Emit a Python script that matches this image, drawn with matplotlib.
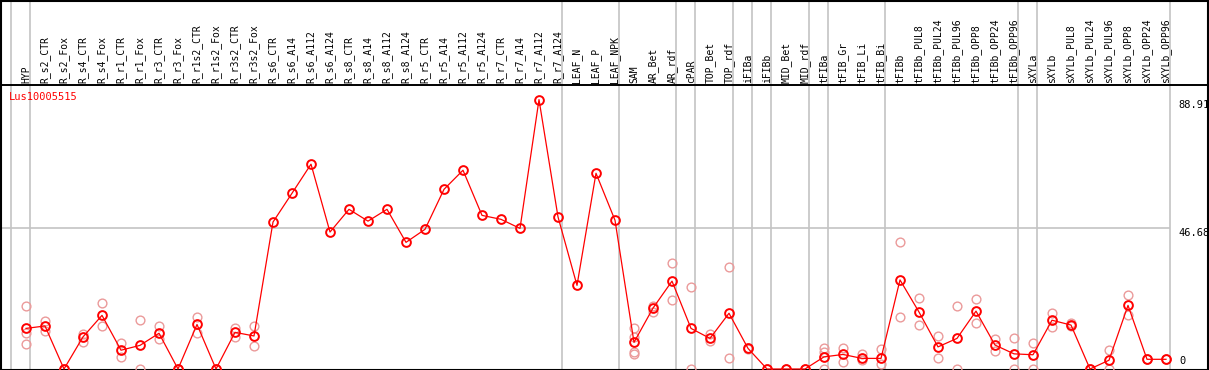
import numpy as np
import matplotlib
matplotlib.use("Agg")
import matplotlib.pyplot as plt

###################################################
# Data
###################################################

GENE = "Lus10005515"

labels = [
    "HYP", "R_s2_CTR", "R_s2_Fox", "R_s4_CTR", "R_s4_Fox",
    "R_r1_CTR", "R_r1_Fox", "R_r3_CTR", "R_r3_Fox",
    "R_r1s2_CTR", "R_r1s2_Fox", "R_r3s2_CTR", "R_r3s2_Fox",
    "R_s6_CTR", "R_s6_A14", "R_s6_A112", "R_s6_A124",
    "R_s8_CTR", "R_s8_A14", "R_s8_A112", "R_s8_A124",
    "R_r5_CTR", "R_r5_A14", "R_r5_A112", "R_r5_A124",
    "R_r7_CTR", "R_r7_A14", "R_r7_A112", "R_r7_A124",
    "LEAF_N", "LEAF_P", "LEAF_NPK",
    "SAM", "AR_Bet", "AR_rdf", "cPAR", "TOP_Bet", "TOP_rdf",
    "iFIBa", "iFIBb", "MID_Bet", "MID_rdf",
    "tFIBa", "tFIB_Gr", "tFIB_Li", "tFIB_Bi",
    "tFIBb", "tFIBb_PUL8", "tFIBb_PUL24", "tFIBb_PUL96",
    "tFIBb_OPP8", "tFIBb_OPP24", "tFIBb_OPP96",
    "sXYLa", "sXYLb", "sXYLb_PUL8", "sXYLb_PUL24", "sXYLb_PUL96",
    "sXYLb_OPP8", "sXYLb_OPP24", "sXYLb_OPP96",
]

mean_expr = [
    13.4, 14.2, 0.0, 10.6, 17.7,
    6.2, 7.8, 11.8, 0.0,
    14.7, 0.0, 12.1, 10.9,
    48.5, 58.0, 67.6, 45.2,
    52.7, 48.8, 52.7, 41.8,
    46.1, 59.3, 65.6, 50.7,
    49.4, 46.4, 88.91, 50.2,
    27.6, 64.6, 49.1,
    8.8, 20.1, 29.0, 13.4, 10.1, 18.4,
    6.8, 0.0, 0.0, 0.0,
    4.0, 4.8, 3.5, 3.5,
    29.4, 18.8, 7.3, 10.1,
    19.1, 7.9, 5.0,
    4.7, 16.1, 14.5, 0.0, 2.9,
    21.0, 3.2, 3.2,
]

nan = np.nan

rep_1 = [
    20.8, 15.9, 0.0, 11.7, 21.7,
    8.6, 16.1, 14.2, 0.0,
    17.2, 0.0, 13.4, 14.2,
    nan, nan, nan, nan,
    nan, nan, nan, nan,
    nan, nan, nan, nan,
    nan, nan, nan, nan,
    nan, nan, nan,
    13.4, 20.8, 34.9, 27.1, 11.5, 33.6,
    7.0, 0.0, 0.0, 0.0,
    7.0, 7.0, 4.8, 6.5,
    41.8, 23.3, 10.9, 20.8,
    23.0, 9.8, 10.1,
    8.6, 18.5, 15.3, 0.0, 6.3,
    24.3, 3.2, 3.2,
]

rep_2 = [
    12.0, 12.5, 0.0, 8.9, 14.2,
    4.1, 0.0, 9.8, 0.0,
    12.0, 0.0, 10.7, 7.5,
    nan, nan, nan, nan,
    nan, nan, nan, nan,
    nan, nan, nan, nan,
    nan, nan, nan, nan,
    nan, nan, nan,
    10.5, 18.9, 22.7, 0.0, 9.2, 3.5,
    6.5, 0.0, 0.0, 0.0,
    5.7, 2.2, 3.0, 1.6,
    17.2, 14.4, 3.5, 0.0,
    15.3, 5.9, 0.0,
    0.0, 14.0, 14.2, 0.0, 0.0,
    17.7, 3.2, 3.2,
]

rep_3 = [
    8.1, nan, nan, nan, nan,
    nan, nan, nan, nan,
    nan, nan, nan, nan,
    nan, nan, nan, nan,
    nan, nan, nan, nan,
    nan, nan, nan, nan,
    nan, nan, nan, nan,
    nan, nan, nan,
    5.7, nan, nan, nan, nan, nan,
    nan, nan, nan, nan,
    0.0, nan, nan, nan,
    nan, nan, nan, nan,
    nan, nan, nan,
    nan, nan, nan, nan, nan,
    nan, nan, nan,
]

rep_4 = [nan] * len(labels)
rep_4[32] = 5.0

# index of the last sample in each group (separator lines drawn after it)
group_ends = [-1, 0, 28, 31, 34, 35, 37, 38, 39, 41, 42, 45, 52, 53, 60]

scale_marks = [88.91, 46.68]

###################################################
# Plot
###################################################

MONO = "DejaVu Sans Mono"
RED = "#ff0000"
PINK = "#eb9a9a"
GRID = "#c4c4c4"

# pixel layout of the original page
W, H = 1209, 370
X0, DX = 26.0, 19.0      # px of first sample, px step
Y0, DY = 369.0, 3.03     # px of value 0, px per unit

fig = plt.figure(figsize=(W / 100, H / 100), dpi=100)
ax = fig.add_axes([1 / W, 0.5 / H, 1207 / W, 369 / H])


def px_to_x(px):
    return (px - X0) / DX


def px_to_y(py):
    return (Y0 - py) / DY


ax.set_xlim(px_to_x(1), px_to_x(1208))
ax.set_ylim(px_to_y(369.5), px_to_y(0.5))

x = np.arange(len(labels))

for g in group_ends:
    ax.axvline(g + 4 / DX, color=GRID, lw=1.2, zorder=1)

ax.hlines(46.68, px_to_x(0), 60 + 4 / DX, color=GRID, lw=1.2, zorder=1)
ax.axhline(px_to_y(85), color="black", lw=1.4, zorder=2)

for rep in [rep_1, rep_2, rep_3, rep_4]:
    ax.plot(
        x,
        rep,
        linestyle="none",
        marker="o",
        markersize=6.3,
        markerfacecolor="none",
        markeredgecolor=PINK,
        markeredgewidth=1.0,
        zorder=3
    )

ax.plot(
    x,
    mean_expr,
    color=RED,
    lw=0.9,
    marker="o",
    markersize=6.3,
    markerfacecolor="none",
    markeredgecolor=RED,
    markeredgewidth=1.4,
    zorder=4
)

for i, lab in enumerate(labels):
    ax.text(
        i,
        px_to_y(83),
        lab,
        rotation=90,
        ha="center",
        va="bottom",
        fontsize=7,
        family=MONO
    )

ax.text(
    px_to_x(9),
    px_to_y(92),
    GENE,
    color=RED,
    ha="left",
    va="top",
    fontsize=7.5,
    family=MONO
)

for v in scale_marks:
    ax.text(
        px_to_x(1178),
        v,
        f"{v:.2f}",
        ha="left",
        va="top",
        fontsize=7.5,
        family=MONO
    )

ax.text(
    px_to_x(1179),
    px_to_y(366),
    "0",
    ha="left",
    va="bottom",
    fontsize=7.5,
    family=MONO
)

ax.set_xticks([])
ax.set_yticks([])
for sp in ax.spines.values():
    sp.set_color("black")
    sp.set_linewidth(1.5)

fig.savefig("out.png", dpi=100)
plt.close(fig)
